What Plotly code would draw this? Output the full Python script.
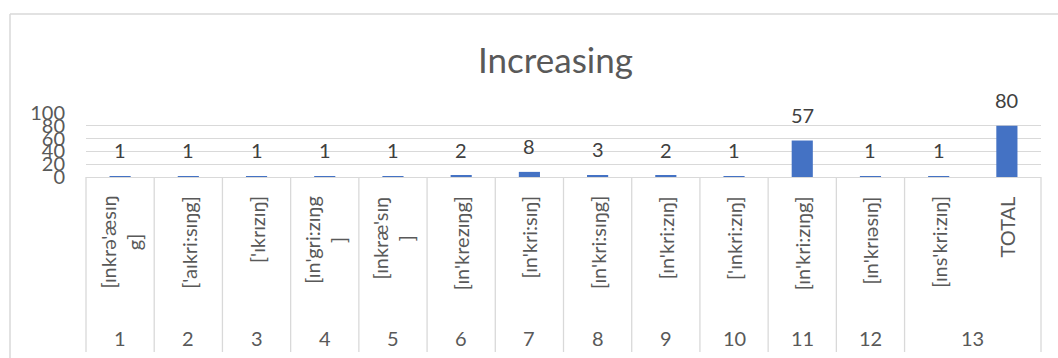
import plotly.graph_objects as go

# Pronunciation variants, the group number each one belongs to, and counts
pronunciations = [
    "[ɪnkrə'æsɪŋ\ng]",
    "['aɪkri:sɪŋg]",
    "['ɪkrɪzɪŋ]",
    "[ɪn'gri:zɪŋg\n]",
    "[ɪnkræ'sɪŋ\n]",
    "[ɪn'krezɪŋg]",
    "[ɪn'kri:sɪŋ]",
    "[ɪn'kri:sɪŋg]",
    "[ɪn'kri:zɪŋ]",
    "['ɪnkri:zɪŋ]",
    "[ɪn'kri:zɪŋg]",
    "[ɪn'krɪəsɪŋ]",
    "[ɪns'kri:zɪŋ]",
    "TOTAL",
]
groups = ["1", "2", "3", "4", "5", "6", "7", "8", "9", "10", "11", "12", "13", "13"]
counts = [1, 1, 1, 1, 1, 2, 8, 3, 2, 1, 57, 1, 1, 80]
y_ticks = [0, 20, 40, 60, 80, 100]

FONT = "Lato, 'DejaVu Sans', sans-serif"
W, H = 1058, 358
PLOT_L, PLOT_R, PLOT_T, PLOT_B = 86, 1041, 113, 177
GRID = "#d9d9d9"
TXT = "#595959"


def py(p):
    """Pixel row -> paper y."""
    return (PLOT_B - p) / (PLOT_B - PLOT_T)


def px(p):
    """Pixel column -> paper x."""
    return (p - PLOT_L) / (PLOT_R - PLOT_L)


xs = list(range(len(counts)))
col_w = (PLOT_R - PLOT_L) / len(xs)

fig = go.Figure(
    go.Bar(
        x=xs,
        y=counts,
        marker=dict(color="#4472C4", line=dict(width=0)),
        hoverinfo="skip",
    )
)

# Value labels above each bar
for x, v in zip(xs, counts):
    fig.add_annotation(
        x=x, y=v, xref="x", yref="y", text=str(v), showarrow=False,
        yanchor="middle", yshift=26,
        font=dict(family=FONT, size=20, color="#404040"),
    )

# Inner category labels (rotated, hanging from the top of the row)
for x, lab in zip(xs, pronunciations):
    fig.add_annotation(
        x=x, y=py(194), xref="x", yref="paper",
        text=lab.replace("\n", "<br>"), textangle=-90, showarrow=False,
        xanchor="center", yanchor="top", align="center",
        font=dict(family=FONT, size=20, color=TXT),
    )

# Outer group labels and separators
spans = []
start = 0
for i in range(1, len(groups) + 1):
    if i == len(groups) or groups[i] != groups[start]:
        spans.append((groups[start], start, i - 1))
        start = i

for g, a, b in spans:
    fig.add_annotation(
        x=(a + b) / 2, y=py(338), xref="x", yref="paper", text=g,
        showarrow=False, xanchor="center", yanchor="middle",
        font=dict(family=FONT, size=20, color=TXT),
    )

bounds = [spans[0][1] - 0.5] + [b + 0.5 for _, _, b in spans]
for bx in bounds:
    xp = px(PLOT_L + (bx + 0.5) * col_w)
    fig.add_shape(
        type="line", xref="paper", yref="paper",
        x0=xp, x1=xp, y0=py(177), y1=py(352),
        line=dict(color=GRID, width=1.3),
    )

# Chart frame (top and left edges)
fig.add_shape(type="line", xref="paper", yref="paper",
              x0=px(10), x1=px(1070), y0=py(14), y1=py(14),
              line=dict(color=GRID, width=1.5))
fig.add_shape(type="line", xref="paper", yref="paper",
              x0=px(10), x1=px(10), y0=py(14), y1=py(370),
              line=dict(color=GRID, width=1.5))

fig.update_layout(
    width=W, height=H,
    margin=dict(l=PLOT_L, r=W - PLOT_R, t=PLOT_T, b=H - PLOT_B, autoexpand=False),
    paper_bgcolor="white", plot_bgcolor="white",
    showlegend=False,
    bargap=0.69,
    title=dict(
        text="Increasing", x=555.5 / W, xanchor="center",
        y=1 - 61 / H, yanchor="middle",
        font=dict(family=FONT, size=35, color=TXT),
    ),
    xaxis=dict(
        range=[-0.5, len(xs) - 0.5], showticklabels=False, showgrid=False,
        zeroline=False, showline=True, linecolor=GRID, linewidth=1.3,
        ticks="",
    ),
    yaxis=dict(
        range=[0, 100], tickvals=y_ticks, showgrid=True, gridcolor=GRID,
        gridwidth=1.3, zeroline=False, showline=False, ticks="",
        ticklabelstandoff=20,
        tickfont=dict(family=FONT, size=20, color=TXT),
    ),
)

fig.write_html("out.html")
